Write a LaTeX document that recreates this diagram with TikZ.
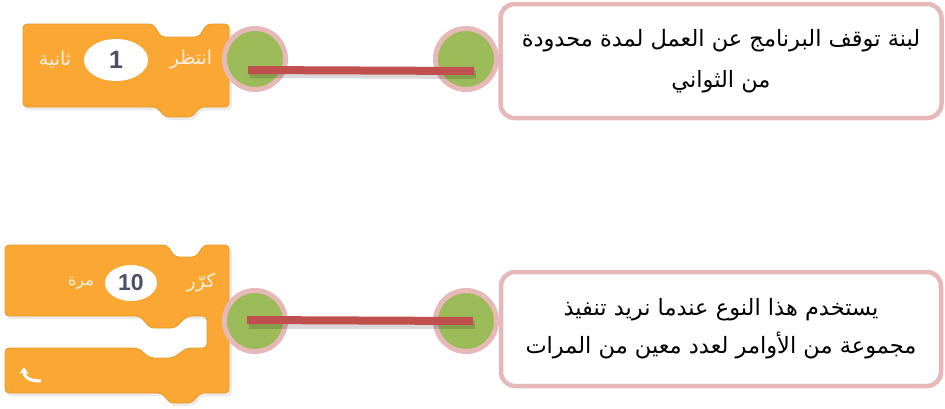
\documentclass[tikz,border=0pt]{standalone}
\usepackage{fontspec}
\usetikzlibrary{shapes.geometric, arrows.meta}
\newfontfamily\arabicfont[Script=Arabic]{DejaVu Sans}
\newfontfamily\slotfont{Liberation Sans}
\TeXXeTstate=1
\definecolor{blockorange}{HTML}{FBA733}
\definecolor{blockedge}{HTML}{E39A22}
\definecolor{dotgreen}{HTML}{9BBB59}
\definecolor{pinkedge}{HTML}{E6B9B8}
\definecolor{barred}{HTML}{C0504D}
\definecolor{slotgrey}{HTML}{4A5068}

\begin{document}
\begin{tikzpicture}[x=1pt, y=-1pt,
		block/.style={fill=blockorange, draw=blockedge, line width=0.8pt, rounded corners=4pt},
		blockshadow/.style={fill=black, opacity=0.08, rounded corners=4pt},
		blocktext/.style={text=white!88!orange, font=\arabicfont\fontsize{19}{21}\selectfont, inner sep=0pt},
		slot/.style={ellipse, fill=white, inner sep=0pt, text=slotgrey, font=\slotfont\bfseries\fontsize{25}{27}\selectfont},
		dot/.style={circle, fill=dotgreen, draw=pinkedge, line width=5pt, minimum size=61pt, inner sep=0pt},
		bar/.style={barred, line width=8pt},
		barshadow/.style={black, line width=8pt, opacity=0.15},
		descbox/.style={draw=pinkedge, line width=4.5pt, rounded corners=14pt, fill=white, align=center,
			font=\arabicfont\fontsize{22.5}{41}\selectfont}]
	\useasboundingbox (0,0) rectangle (945,408);

	% wait block
	\fill[blockshadow] (25,27) -- (155,27) -- (163,40) -- (201,40) -- (209,27) -- (232,27) -- (232,110) -- (202,110) -- (194,120) -- (167,120) -- (159,110) -- (25,110) -- cycle;
	\draw[block] (23,24) -- (153,24) -- (161,37) -- (199,37) -- (207,24) -- (229,24) -- (229,107) -- (200,107) -- (192,117) -- (165,117) -- (157,107) -- (23,107) -- cycle;
	\node[slot, minimum width=64pt, minimum height=42pt] (waitslot) at (116,60) {1};
	\node[blocktext] (waitword) at (191,60) {\beginR انتظر\endR};
	\node[blocktext] (secword) at (55,60) {\beginR ثانية\endR};

	% repeat block
	\fill[blockshadow] (7,248) -- (169,248) -- (177,260) -- (198,260) -- (206,248) -- (232,248) -- (232,396) -- (202,396) -- (194,406) -- (172,406) -- (164,396) -- (7,396) -- (7,351) -- (140,351) -- (152,361) -- (175,361) -- (189,351) -- (210,351) -- (210,319) -- (7,319) -- cycle;
	\draw[block] (5,245) -- (167,245) -- (175,257) -- (196,257) -- (204,245) -- (229,245) -- (229,393) -- (200,393) -- (192,403) -- (170,403) -- (162,393) -- (5,393) -- (5,348) -- (138,348) -- (150,358) -- (173,358) -- (187,348) -- (207,348) -- (207,316) -- (187,316) -- (175,328) -- (150,328) -- (140,316) -- (5,316) -- cycle;
	\node[slot, minimum width=52pt, minimum height=36pt, font=\slotfont\bfseries\fontsize{23}{25}\selectfont] (repslot) at (131,283) {10};
	\node[blocktext] (repword) at (201,283) {\beginR كرّر\endR};
	\node[blocktext, font=\arabicfont\fontsize{16}{18}\selectfont] (timesword) at (81,283) {\beginR مرة\endR};
	\draw[white, line width=3pt, -{Stealth[length=7pt, width=9pt]}] (41,381) .. controls (27,381) and (24,376) .. (24,367);

	% connectors
	\node[dot] (waitL) at (255,59) {};
	\node[dot] (waitR) at (466,59) {};
	\node[dot] (repL) at (255,321) {};
	\node[dot] (repR) at (466,321) {};
	\draw[barshadow] ([shift={(-5,15)}]waitL.center) -- ([shift={(10,16)}]waitR.center);
	\draw[bar] ([shift={(-7,11)}]waitL.center) -- ([shift={(8,12)}]waitR.center);
	\draw[barshadow] ([shift={(-6,4)}]repL.center) -- ([shift={(9,4)}]repR.center);
	\draw[bar] ([shift={(-8,-1)}]repL.center) -- ([shift={(7,0)}]repR.center);

	% descriptions
	\node[descbox, minimum width=441pt, minimum height=114pt] (waitbox) at (721,61)
		{\beginR لبنة توقف البرنامج عن العمل لمدة محدودة\endR\\\beginR من الثواني\endR};
	\node[descbox, minimum width=440pt, minimum height=114pt, font=\arabicfont\fontsize{22.5}{38}\selectfont] (repbox) at (721,329)
		{\beginR يستخدم هذا النوع عندما نريد تنفيذ\endR\\\beginR مجموعة من الأوامر لعدد معين من المرات\endR};
\end{tikzpicture}
\end{document}
